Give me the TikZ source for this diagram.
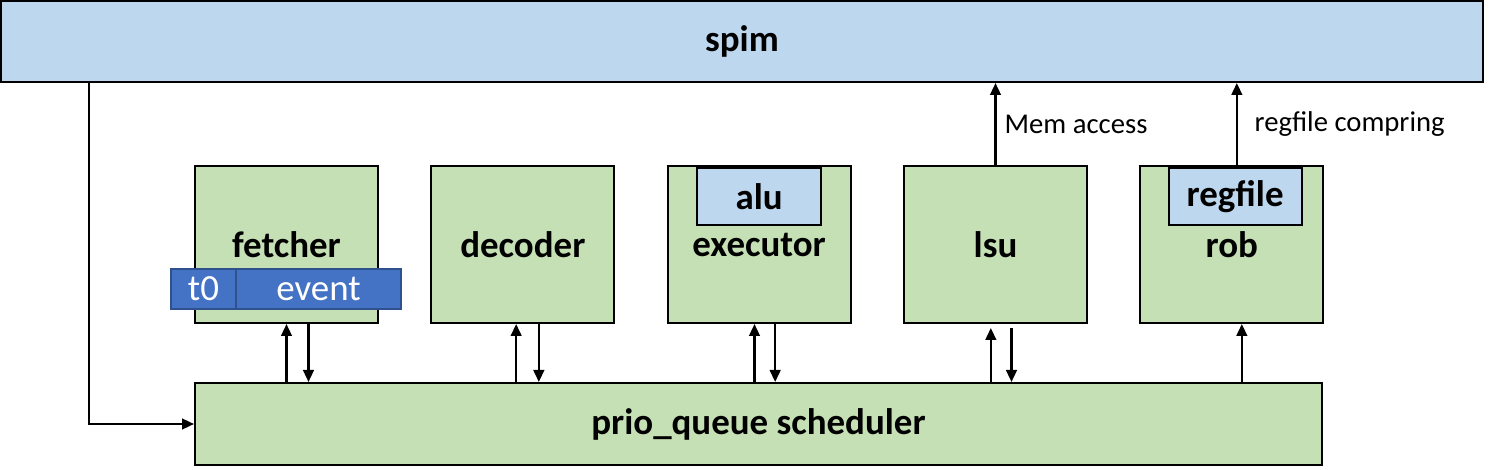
\documentclass[tikz,border=0pt]{standalone}
\usepackage{fontspec}
\setmainfont{Carlito}
\usetikzlibrary{positioning,arrows.meta}
\definecolor{lblue}{HTML}{BDD7EE}
\definecolor{lgreen}{HTML}{C5E0B4}
\definecolor{dblue}{HTML}{4472C4}
\definecolor{dbdraw}{HTML}{2F528F}
\tikzstyle{topbox}=[rectangle, draw=black, fill=lblue, line width=1.5pt,
                    minimum width=1111.5pt, minimum height=60.75pt, inner sep=0pt,
                    font=\fontsize{27.7}{30}\selectfont\bfseries]
\tikzstyle{modbox}=[rectangle, draw=black, fill=lgreen, line width=1.5pt,
                    minimum width=137.25pt, minimum height=117.75pt, inner sep=0pt,
                    font=\fontsize{27.7}{30}\selectfont\bfseries]
\tikzstyle{subbox}=[rectangle, draw=black, fill=lblue, line width=1.5pt,
                    minimum height=42.75pt, inner sep=0pt, anchor=north,
                    font=\fontsize{27.7}{30}\selectfont\bfseries]
\tikzstyle{evbox}=[rectangle, draw=dbdraw, fill=dblue, line width=1pt,
                   minimum height=30pt, inner sep=0pt, text=white,
                   font=\fontsize{27.7}{30}\selectfont]
\tikzstyle{pline}=[line width=1.7pt, -{Triangle[length=9pt,width=8pt]}]
\tikzstyle{lbl}=[font=\fontsize{21.5}{24}\selectfont, inner sep=0pt]

\begin{document}
\begin{tikzpicture}[x=0.75pt, y=-0.75pt]
\useasboundingbox (0,0) rectangle (1493,470);

\node (SPIM) [topbox] at (742,41.5) {spim};
\node (SCHED) [modbox, minimum width=845.25pt, minimum height=61.5pt] at (758.5,424)
  {prio\_queue scheduler};

\node (FETCH) [modbox] at (286.5,244.5) {fetcher};
\node (DECOD) [modbox,right=38.5pt of FETCH] {decoder};
\node (EXEC) [modbox,right=38.5pt of DECOD] {executor};
\node (LSU) [modbox,right=38.5pt of EXEC] {lsu};
\node (ROB) [modbox,right=38.5pt of LSU] {rob};

\node (ALU) [subbox, minimum width=93pt] at ([yshift=-1.5pt]EXEC.north) {alu};
\node (REGF) [subbox, minimum width=99.75pt] at ([xshift=2.5pt,yshift=-1.5pt]ROB.north) {regfile};
\node (TZERO) [evbox, minimum width=48.75pt] at (203.5,289) {t0};
\node (EVENT) [evbox, minimum width=123.75pt, right=-1pt of TZERO] {event};

% spim -> scheduler
 \draw[pline] ([xshift=66.75pt]SPIM.south west) |- (SCHED.west);

% scheduler <-> modules
 \draw[pline] (SCHED.north -| FETCH.south) -- (FETCH.south);
 \draw[pline] ([xshift=16.5pt]FETCH.south) -- ([xshift=16.5pt]FETCH.south |- SCHED.north);
 \draw[pline] ([xshift=-5pt]DECOD.south |- SCHED.north) -- ([xshift=-5pt]DECOD.south);
 \draw[pline] ([xshift=12pt]DECOD.south) -- ([xshift=12pt]DECOD.south |- SCHED.north);
 \draw[pline] ([xshift=-3.5pt]EXEC.south |- SCHED.north) -- ([xshift=-3.5pt]EXEC.south);
 \draw[pline] ([xshift=12pt]EXEC.south) -- ([xshift=12pt]EXEC.south |- SCHED.north);
 \draw[pline, shorten >=3pt] ([xshift=-3.5pt]LSU.south |- SCHED.north) -- ([xshift=-3.5pt]LSU.south);
 \draw[pline, shorten <=3pt] ([xshift=12pt]LSU.south) -- ([xshift=12pt]LSU.south |- SCHED.north);
 \draw[pline] ([xshift=7.5pt]ROB.south |- SCHED.north) -- ([xshift=7.5pt]ROB.south);

% modules -> spim
 \draw[pline] (LSU.north) -- (LSU.north |- SPIM.south)
   node[lbl, midway, right=6pt] {Mem access};
 \draw[pline] ([xshift=3.75pt]ROB.north) -- ([xshift=3.75pt]ROB.north |- SPIM.south)
   node[lbl, midway, right=12.5pt] {regfile compring};

\end{tikzpicture}
\end{document}
